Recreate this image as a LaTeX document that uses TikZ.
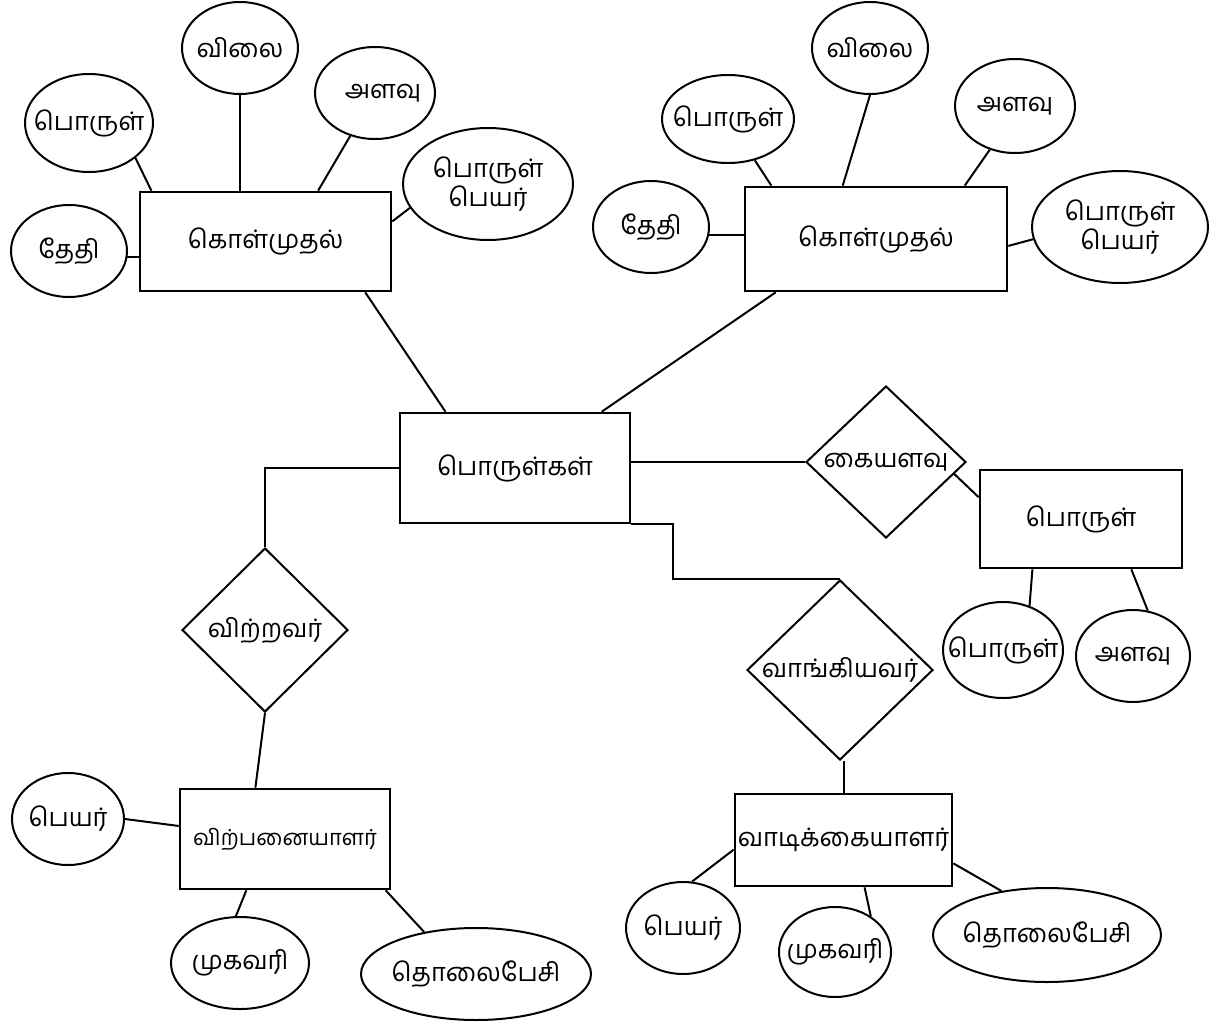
\documentclass[tikz,border=0pt]{standalone}
\usepackage{fontspec}
\newfontfamily\tamil[Script=Tamil]{Hind Madurai}
\usetikzlibrary{shapes.geometric}

\begin{document}
\begin{tikzpicture}[x=1pt, y=-1pt, line width=2pt,
    every node/.style={font=\tamil\fontsize{25.5}{29}\selectfont},
    entity/.style={draw, rectangle, line width=2.6pt, inner sep=0pt},
    attr/.style={draw, ellipse, inner sep=-16pt, align=center},
    rel/.style={draw, diamond, inner sep=-16pt, aspect=1}]
    \useasboundingbox (0,0) rectangle (1214,1020);
    \path[every node/.append style=entity]
        (265.5,241.5) node[minimum width=251, minimum height=99] (k1){கொள்முதல்}
        (876,239) node[minimum width=262, minimum height=104] (k2){கொள்முதல்}
        (515,468) node[minimum width=230, minimum height=110] (p0){பொருள்கள்}
        (1081,519) node[minimum width=202, minimum height=98] (p1){பொருள்}
        (285,839) node[minimum width=210, minimum height=100, font=\tamil\fontsize{22}{26}\selectfont] (v1){விற்பனையாளர்}
        (843.5,840) node[minimum width=217, minimum height=92] (v2){வாடிக்கையாளர்};
    \path[every node/.append style=attr]
        (89,123) node[minimum width=128, minimum height=98] (a1){பொருள்}
        (240,48) node[minimum width=116, minimum height=92] (a2){விலை}
        (375,93) node[minimum width=120, minimum height=92] (a3){\hspace{16pt}அளவு}
        (488,184) node[minimum width=170, minimum height=112] (a4){பொருள்\\பெயர்}
        (69,251) node[minimum width=116, minimum height=92] (a5){தேதி}
        (728,119) node[minimum width=132, minimum height=88] (b1){பொருள்}
        (870,48) node[minimum width=116, minimum height=92] (b2){விலை}
        (1015,106) node[minimum width=120, minimum height=94] (b3){அளவு}
        (651,227) node[minimum width=116, minimum height=92] (b4){தேதி}
        (1120,227) node[minimum width=176, minimum height=112] (b5){பொருள்\\பெயர்}
        (1003,650) node[minimum width=120, minimum height=96] (c1){பொருள்}
        (1133,656) node[minimum width=114, minimum height=92] (c2){அளவு}
        (68,819) node[minimum width=112, minimum height=92] (d1){பெயர்}
        (240,963) node[minimum width=138, minimum height=92] (d2){முகவரி}
        (476,974) node[minimum width=230, minimum height=92] (d3){தொலைபேசி}
        (683,928) node[minimum width=114, minimum height=92] (e1){பெயர்}
        (835,952) node[minimum width=112, minimum height=90] (e2){முகவரி}
        (1047,935) node[minimum width=228, minimum height=94] (e3){தொலைபேசி};
    \path[every node/.append style=rel]
        (265,630) node[minimum width=166, minimum height=164] (r1){விற்றவர்}
        (886,462) node[minimum width=160, minimum height=152] (r2){கையளவு}
        (840,670) node[minimum width=186, minimum height=180] (r3){வாங்கியவர்};
    \begin{scope}[-]
        \draw (a1.-37) to (k1.156);
        \draw (a2.south) to (a2.south |- k1.north);
        \draw (a3.240) to (k1.44);
        \draw (a4.197) to (k1.9);
        \draw (a5.-6) to (a5.-6 -| k1.west);
        \draw (k1.-27) to (p0.141);
        \draw (b1.-57) to (k2.153);
        \draw (b2.south) to (k2.122);
        \draw (b3.240) to (k2.31);
        \draw (b4.-8) to (b4.-8 -| k2.west);
        \draw (b5.188) to (k2.-3);
        \draw (k2.208) to (p0.33);
        \draw (p0.west) -| (r1.north);
        \draw (p0.east |- r2.west) to (r2.west);
        \draw (r2.-10) to (p1.168);
        \draw (p0.south east) -- ++(42,0) |- (r3.north);
        \draw (p1.226) to (c1.59);
        \draw (p1.-45) to (c2.72);
        \draw (r1.south) to (v1.120);
        \draw (d1.east) to (v1.173);
        \draw (v1.233) to (d2.95);
        \draw (v1.-27) to (d3.141);
        \draw (v2.north) to (v2.north |- r3.south);
        \draw (v2.185) to (e1.79);
        \draw (v2.-66) to (e2.45);
        \draw (v2.-12) to (e3.136);
    \end{scope}
\end{tikzpicture}
\end{document}
